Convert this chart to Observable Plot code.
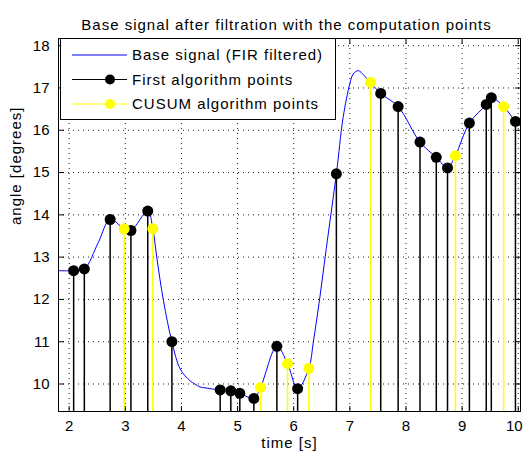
<!DOCTYPE html>
<html><head><meta charset="utf-8">
<script src="https://cdn.jsdelivr.net/npm/d3@7"></script>
<script src="https://cdn.jsdelivr.net/npm/@observablehq/plot@0.6"></script>
<style>body{margin:0;background:#fff}</style>
</head><body><div id="chart"></div>
<script>
// Base signal (FIR filtered)
const signalTime  = [1.81, 2.08, 2.27, 2.52, 2.73, 2.98, 3.10, 3.40, 3.49, 3.56, 3.68, 3.83, 3.98, 4.15, 4.24, 4.33, 4.42, 4.51, 4.69, 4.88, 5.04, 5.29, 5.41, 5.70, 5.89, 6.07, 6.27, 6.35, 6.45, 6.60, 6.76, 6.88, 7.00, 7.06, 7.15, 7.25, 7.37, 7.55, 7.86, 8.25, 8.54, 8.74, 8.88, 9.13, 9.43, 9.52, 9.74, 9.95, 10.04];
const signalAngle = [12.68, 12.68, 12.72, 13.35, 13.89, 13.67, 13.63, 14.09, 13.67, 13.0, 11.97, 11.0, 10.35, 10.08, 10.0, 9.93, 9.91, 9.89, 9.86, 9.84, 9.78, 9.66, 9.92, 10.89, 10.48, 9.89, 10.37, 11.0, 11.9, 13.4, 14.97, 16.3, 17.1, 17.33, 17.41, 17.3, 17.13, 16.87, 16.56, 15.72, 15.36, 15.11, 15.40, 16.17, 16.61, 16.77, 16.56, 16.21, 16.1];
// First algorithm points
const firstTime  = [2.08, 2.27, 2.73, 3.10, 3.40, 3.83, 4.69, 4.88, 5.04, 5.29, 5.70, 6.07, 6.76, 7.55, 7.86, 8.25, 8.54, 8.74, 9.13, 9.43, 9.52, 9.95];
const firstAngle = [12.68, 12.72, 13.89, 13.63, 14.09, 11.0, 9.86, 9.84, 9.78, 9.66, 10.89, 9.89, 14.97, 16.87, 16.56, 15.72, 15.36, 15.11, 16.17, 16.61, 16.77, 16.21];
// CUSUM algorithm points
const cusumTime  = [2.98, 3.49, 5.41, 5.89, 6.27, 7.37, 8.88, 9.74];
const cusumAngle = [13.67, 13.67, 9.92, 10.48, 10.37, 17.13, 15.40, 16.56];

const xTicks = [2, 3, 4, 5, 6, 7, 8, 9, 10];
const yTicks = [10, 11, 12, 13, 14, 15, 16, 17, 18];
const titleText = "Base signal after filtration with the computation points";
const xLabel = "time [s]";
const yLabel = "angle [degrees]";
const legendLabels = ["Base signal (FIR filtered)", "First algorithm points", "CUSUM algorithm points"];
const legendColors = ["#0000ff", "#000000", "#ffff00"];

const signal = signalTime.map((t, i) => ({t, a: signalAngle[i]}));
const first = firstTime.map((t, i) => ({t, a: firstAngle[i]}));
const cusum = cusumTime.map((t, i) => ({t, a: cusumAngle[i]}));

const font = "'Liberation Sans', Arial, Helvetica, sans-serif";
const tickShape = {draw(ctx, l) { ctx.moveTo(0, 0); ctx.lineTo(0, -l); }};
const tickOpts = {length: 5, anchor: "start", shape: tickShape, stroke: "#000", strokeWidth: 1};
const gridOpts = {stroke: "#000", strokeOpacity: 0.9, strokeDasharray: "1,4"};

const chart = Plot.plot({
  width: 524, height: 459,
  marginLeft: 58, marginRight: 4, marginTop: 38, marginBottom: 48,
  style: {fontFamily: font, fontSize: "15px", color: "#000", background: "#fff", overflow: "visible"},
  x: {domain: [1.81, 10.04]},
  y: {domain: [9.35, 18.17]},
  marks: [
    Plot.gridX(xTicks, gridOpts),
    Plot.gridY(yTicks, gridOpts),
    Plot.line(signal, {x: "t", y: "a", stroke: legendColors[0], strokeWidth: 1, curve: "catmull-rom"}),
    Plot.ruleX(first, {x: "t", y1: 0, y2: "a", stroke: "#000", strokeWidth: 1.5, clip: true}),
    Plot.dot(first, {x: "t", y: "a", r: 5.5, fill: "#000", stroke: "none"}),
    Plot.ruleX(cusum, {x: "t", y1: 0, y2: "a", stroke: legendColors[2], strokeWidth: 1.5, clip: true}),
    Plot.dot(cusum, {x: "t", y: "a", r: 5.5, fill: legendColors[2], stroke: "none"}),
    Plot.frame({stroke: "#000"}),
    Plot.vectorX(xTicks, {frameAnchor: "bottom", rotate: 0, ...tickOpts}),
    Plot.vectorX(xTicks, {frameAnchor: "top", rotate: 180, ...tickOpts}),
    Plot.vectorY(yTicks, {frameAnchor: "left", rotate: 90, ...tickOpts}),
    Plot.vectorY(yTicks, {frameAnchor: "right", rotate: -90, ...tickOpts}),
    Plot.axisX(xTicks.slice(0, -1), {tickSize: 0, tickPadding: 9, label: null, fontSize: 15}),
    Plot.axisX(xTicks.slice(-1), {tickSize: 0, tickPadding: 9, label: null, fontSize: 15, dx: -4}),
    Plot.axisY(yTicks, {tickSize: 0, tickPadding: 9, label: null, fontSize: 15}),
    Plot.text([xLabel], {text: d => d, frameAnchor: "bottom", dy: 36, fontSize: 15}),
    Plot.text([yLabel], {text: d => d, frameAnchor: "left", rotate: -90, dx: -42, fontSize: 15}),
    Plot.text([titleText], {text: d => d, frameAnchor: "top", dy: -19, dx: -3, fontSize: 15})
  ]
});

const svg = d3.select(chart);
// wider letter spacing for title and axis labels (matches the reference's text widths)
svg.selectAll("g[aria-label='text'] text").attr("letter-spacing", "1px");

// Legend box (inside the axes, top-left)
const lg = svg.append("g").attr("font-family", font).attr("font-size", 15).attr("text-anchor", "start");
lg.append("rect").attr("x", 60.5).attr("y", 38.5).attr("width", 275).attr("height", 81)
  .attr("fill", "#fff").attr("stroke", "#000");
legendLabels.forEach((label, i) => {
  const cy = 55 + i * 24.5;
  lg.append("line").attr("x1", 72).attr("x2", 127).attr("y1", cy).attr("y2", cy)
    .attr("stroke", legendColors[i]).attr("stroke-width", 1);
  if (i > 0) lg.append("circle").attr("cx", 110).attr("cy", cy).attr("r", 5).attr("fill", legendColors[i]);
  lg.append("text").attr("x", 132).attr("y", cy).attr("dy", "0.35em").attr("fill", "#000")
    .attr("text-anchor", "start").attr("letter-spacing", "1px").text(label);
});

document.getElementById("chart").appendChild(chart);
</script>
</body></html>
